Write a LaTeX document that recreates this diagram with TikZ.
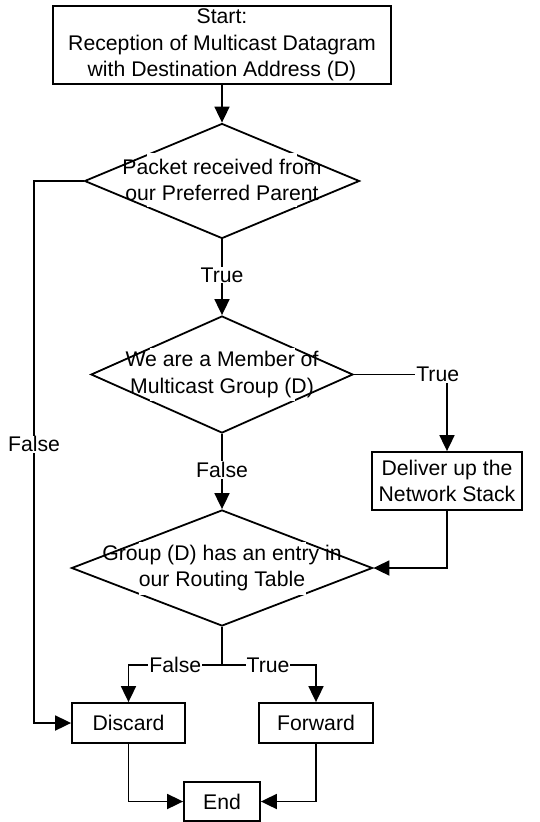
\documentclass[tikz,border=0pt]{standalone}
\usepackage{fontspec}
\setmainfont{Liberation Sans}
\usetikzlibrary{shapes.geometric,arrows.meta}

\begin{document}
\begin{tikzpicture}[x=1pt, y=-1pt, font=\fontsize{21.2}{26.5}\selectfont]
    \tikzstyle{block}=[draw, line width=1.8pt, align=center, inner sep=0pt]
    \tikzstyle{decision}=[draw, diamond, line width=1.8pt, inner sep=0pt]
    \tikzstyle{textblock}=[fill=white, align=center, inner sep=0pt]
    \tikzstyle{branch}=[fill=white, inner sep=1pt]
    \tikzstyle{flow}=[line width=1.8pt, -{Triangle[length=16pt,width=15pt]}]
    \useasboundingbox (0,0) rectangle (540,822);

    \node[block, minimum width=338pt, minimum height=78pt] (start) at (222,45)
        {Start:\\Reception of Multicast Datagram\\with Destination Address (D)};

    % decisions: diamond first, then the white text block over it
    \node[decision, minimum width=275pt, minimum height=115pt] (packet) at (222,181) {};
    \node[textblock, minimum width=150pt, minimum height=54pt] (packettext) at (222,180)
        {\makebox[0pt]{Packet received from}\\\makebox[0pt]{our Preferred Parent}};
    \node[decision, minimum width=262pt, minimum height=117pt] (member) at (222,374.5) {};
    \node[textblock, minimum width=145pt, minimum height=53pt] (membertext) at (222,374.5)
        {\makebox[0pt]{We are a Member of}\\\makebox[0pt]{Multicast Group (D)}};
    \node[decision, minimum width=301pt, minimum height=116pt] (routing) at (222,568) {};
    \node[textblock, minimum width=167pt, minimum height=53pt] (routingtext) at (222,568)
        {\makebox[0pt]{Group (D) has an entry in}\\\makebox[0pt]{our Routing Table}};

    \node[block, minimum width=150pt, minimum height=58pt] (deliver) at (447,481)
        {Deliver up the\\Network Stack};
    \node[block, minimum width=113pt, minimum height=40pt] (discard) at (128.5,723) {Discard};
    \node[block, minimum width=114pt, minimum height=40pt] (forward) at (316,723) {Forward};
    \node[block, minimum width=76pt, minimum height=39pt] (end) at (222,801.5) {End};

    \coordinate (rail) at (34,181);
    \coordinate (split) at (222,665);

    \draw[flow] (start.south) -- (packet.north);
    \draw[flow] (packet.west) -- (rail) |- node[branch, pos=0.243] {False} (discard.west);
    \draw[flow] (packet.south) -- node[branch, pos=0.47] {True} (member.north);
    \draw[flow] (member.east) -| node[branch, pos=0.45] {True} (deliver.north);
    \draw[flow] (member.south) -- node[branch, pos=0.48] {False} (routing.north);
    \draw[flow] (deliver.south) |- (routing.east);
    \draw[line width=1.8pt] (routing.south) -- (split);
    \draw[flow] (split) -| node[branch, pos=0.25] {False} (discard.north);
    \draw[flow] (split) -| node[branch, pos=0.245] {True} (forward.north);
    \draw[flow] (discard.south) |- (end.west);
    \draw[flow] (forward.south) |- (end.east);
\end{tikzpicture}
\end{document}
